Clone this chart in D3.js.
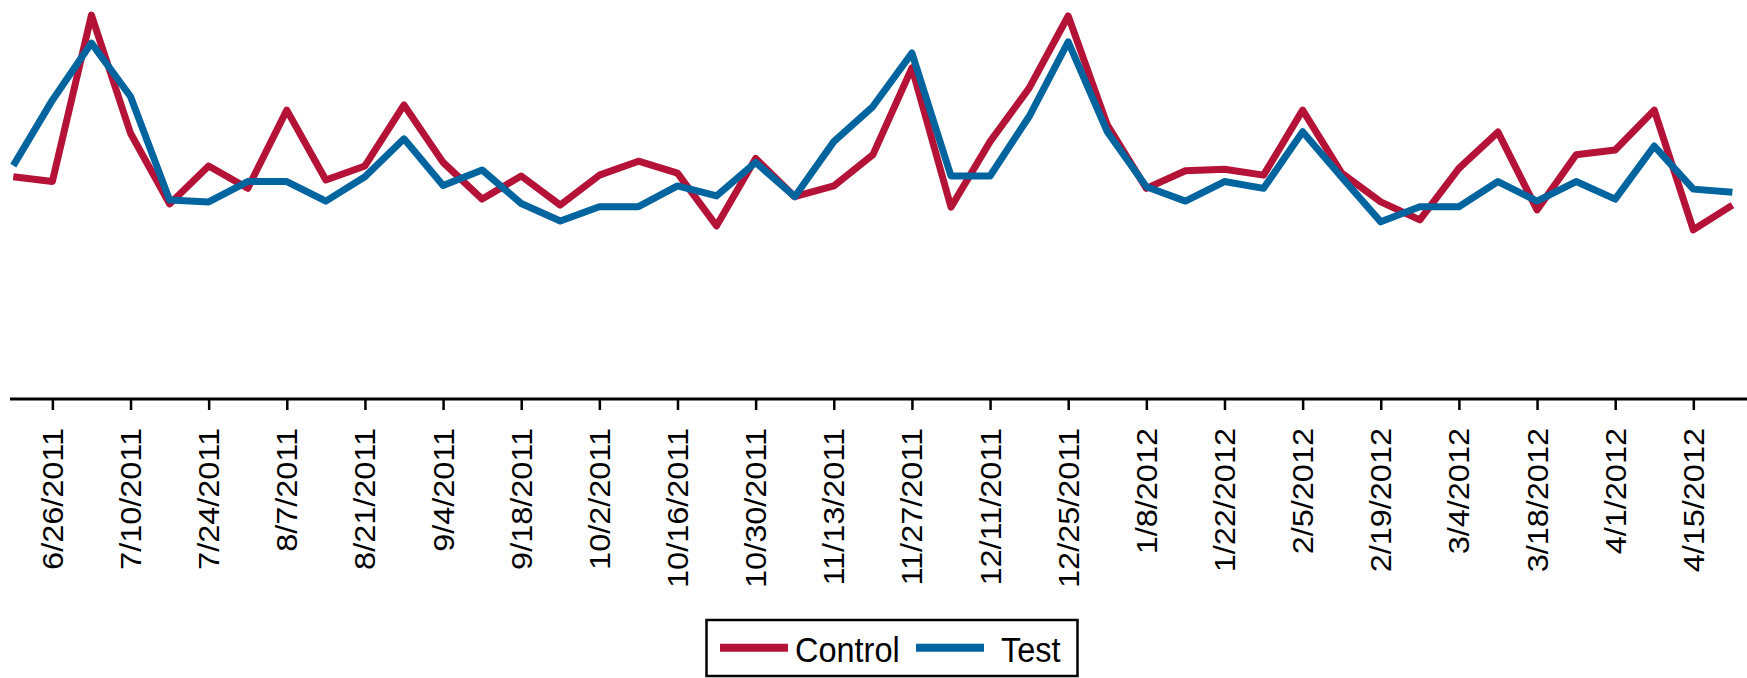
<!DOCTYPE html>
<html>
<head>
<meta charset="utf-8">
<script src="https://cdn.jsdelivr.net/npm/d3@7/dist/d3.min.js"></script>
<style>
  html, body { margin: 0; padding: 0; background: #fff; }
  svg { display: block; }
  text { font-family: "Liberation Sans", Arial, sans-serif; fill: #000; }
</style>
</head>
<body>
<svg id="chart" width="1747" height="678"></svg>
<script>
// ---- data ----
const weekStart = "6/19/2011";          // first weekly observation
const weekCount = 45;                   // weekly points through 4/22/2012
const control = [55.7, 54.5, 96.2, 66.6, 48.9, 58.4, 52.8, 72.4, 54.9, 58.4,
                 73.7, 59.3, 50.1, 55.9, 48.6, 56.1, 59.6, 56.6, 43.4, 60.3,
                 50.7, 53.4, 61.2, 83.0, 48.1, 64.5, 77.9, 96.0, 68.7, 52.8,
                 57.2, 57.6, 56.1, 72.4, 56.6, 49.4, 44.9, 57.8, 66.9, 47.4,
                 61.2, 62.4, 72.4, 42.4, 48.6];
const test    = [58.5, 74.9, 89.2, 75.8, 49.9, 49.4, 54.5, 54.5, 49.6, 55.7,
                 65.2, 53.5, 57.4, 49.0, 44.6, 48.2, 48.2, 53.4, 50.9, 59.3,
                 50.7, 64.5, 73.3, 86.7, 55.9, 55.9, 70.8, 89.5, 67.0, 53.2,
                 49.6, 54.5, 52.8, 67.0, 55.6, 44.4, 48.2, 48.2, 54.5, 49.6,
                 54.5, 50.1, 63.4, 52.6, 51.8];
const tickLabels = ["6/26/2011","7/10/2011","7/24/2011","8/7/2011","8/21/2011",
                    "9/4/2011","9/18/2011","10/2/2011","10/16/2011","10/30/2011",
                    "11/13/2011","11/27/2011","12/11/2011","12/25/2011","1/8/2012",
                    "1/22/2012","2/5/2012","2/19/2012","3/4/2012","3/18/2012",
                    "4/1/2012","4/15/2012"];
const seriesNames = ["Control", "Test"];
const seriesColors = ["#B41237", "#00649F"];

// ---- build ----
const parse = d3.utcParse("%m/%d/%Y");
const fmt = d3.utcFormat("%-m/%-d/%Y");
const start = parse(weekStart);
const dates = d3.range(weekCount).map(i => d3.utcDay.offset(start, 7 * i));
const series = [control, test].map((vals, k) => ({
  name: seriesNames[k], color: seriesColors[k],
  points: vals.map((v, i) => ({ date: dates[i], value: v }))
}));

const svg = d3.select("#chart");
const axisY = 399;

const x = d3.scaleUtc().domain([dates[0], dates[dates.length - 1]]).range([13.3, 1732.4]);
const y = d3.scaleLinear().domain([0, 100]).range([axisY, 0]);

// clip so lines end at picture edge
svg.append("defs").append("clipPath").attr("id", "clip")
  .append("rect").attr("x", 10).attr("y", 0).attr("width", 1737).attr("height", axisY);

const line = d3.line().x(d => x(d.date)).y(d => y(d.value));

svg.append("g").attr("clip-path", "url(#clip)")
  .selectAll("path").data(series).join("path")
  .attr("d", d => line(d.points))
  .attr("fill", "none")
  .attr("stroke", d => d.color)
  .attr("stroke-width", 7)
  .attr("stroke-linejoin", "round")
  .attr("stroke-linecap", "butt");

// x axis
const axis = d3.axisBottom(x)
  .tickValues(tickLabels.map(parse))
  .tickSize(11)
  .tickSizeOuter(0)
  .tickFormat(fmt);

const gx = svg.append("g").attr("transform", `translate(0,${axisY})`).call(axis);
gx.select(".domain").remove();
gx.selectAll(".tick line").attr("stroke", "#000").attr("stroke-width", 2.5);
gx.selectAll(".tick text")
  .attr("font-size", 29.5)
  .attr("text-anchor", "end")
  .attr("dy", null)
  .attr("y", null)
  .attr("transform", "translate(0,29) rotate(-90) scale(1.1,1)")
  .attr("dominant-baseline", "central");

svg.append("line")
  .attr("x1", 10).attr("x2", 1747)
  .attr("y1", axisY).attr("y2", axisY)
  .attr("stroke", "#000").attr("stroke-width", 3);

// legend
const lg = svg.append("g");
lg.append("rect")
  .attr("x", 706.5).attr("y", 620).attr("width", 371).attr("height", 56)
  .attr("fill", "#fff").attr("stroke", "#000").attr("stroke-width", 2.5);
const items = [
  { s: series[0], x1: 720, x2: 788, tx: 795 },
  { s: series[1], x1: 916, x2: 984, tx: 1001 }
];
items.forEach(it => {
  lg.append("line")
    .attr("x1", it.x1).attr("x2", it.x2)
    .attr("y1", 647.7).attr("y2", 647.7)
    .attr("stroke", it.s.color).attr("stroke-width", 8);
  lg.append("text")
    .attr("transform", `translate(${it.tx},661.5) scale(1,1.06)`)
    .attr("font-size", 32.5)
    .text(it.s.name);
});
</script>
</body>
</html>
